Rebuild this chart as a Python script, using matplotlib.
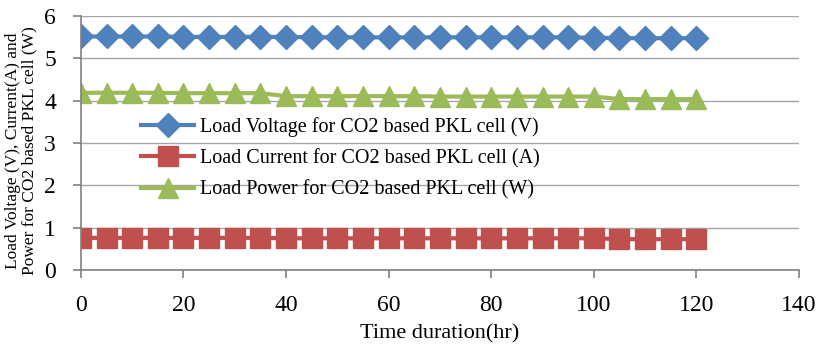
import numpy as np
import matplotlib.pyplot as plt

plt.rcParams['font.family'] = ['Liberation Serif', 'DejaVu Serif']

hours = [0, 5, 10, 15, 20, 25, 30, 35, 40, 45, 50, 55, 60, 65, 70, 75, 80, 85, 90, 95, 100, 105, 110, 115, 120]
voltage = [5.52, 5.52, 5.52, 5.52, 5.51, 5.51, 5.51, 5.51, 5.51, 5.50, 5.50, 5.50, 5.50, 5.50, 5.50, 5.50, 5.50, 5.50, 5.50, 5.50,
           5.49, 5.48, 5.48, 5.48, 5.48]
current = [0.76, 0.76, 0.76, 0.76, 0.76, 0.76, 0.76, 0.76, 0.75, 0.75, 0.75, 0.75, 0.75, 0.75, 0.75, 0.75, 0.75, 0.75, 0.75, 0.75,
           0.75, 0.73, 0.73, 0.73, 0.73]
power = [4.19, 4.19, 4.19, 4.19, 4.18, 4.18, 4.18, 4.18, 4.11, 4.11, 4.11, 4.11, 4.11, 4.11, 4.10, 4.10, 4.10, 4.10, 4.10, 4.10,
         4.10, 4.04, 4.04, 4.04, 4.04]

fig = plt.figure(figsize=(8.17, 3.44), dpi=100)
ax = fig.add_axes([0.099, 0.215, 0.879, 0.738])

ax.plot(hours, voltage, color='#4f81bd', lw=3, marker='D', markersize=12, label='Load Voltage for CO2 based PKL cell (V)')
ax.plot(hours, current, color='#c0504d', lw=3, marker='s', markersize=14, label='Load Current for CO2 based PKL cell (A)')
ax.plot(hours, power, color='#9bbb59', lw=3, marker='^', markersize=14, label='Load Power for CO2 based PKL cell (W)')

ax.set_xlim(0, 140)
ax.set_ylim(0, 6)
ax.set_xticks(np.arange(0, 141, 20))
ax.set_yticks(np.arange(0, 7, 1))
ax.grid(axis='y', color='#a6a6a6', lw=1)
ax.set_axisbelow(True)
for s in ['top', 'right']:
    ax.spines[s].set_visible(False)
for s in ['left', 'bottom']:
    ax.spines[s].set_color('#808080')
    ax.spines[s].set_linewidth(1.2)
ax.tick_params(axis='both', labelsize=17, color='#808080', length=6, width=1.2)
ax.tick_params(axis='x', pad=12)
ax.tick_params(axis='y', pad=12)
ax.set_xlabel('Time duration(hr)', fontsize=16)
ax.xaxis.set_label_coords(0.5, -0.215)
ax.set_ylabel('Load Voltage (V), Current(A) and\nPower for CO2 based PKL cell (W)', fontsize=12.5, linespacing=1.05)
ax.yaxis.set_label_coords(-0.06, 0.47)

ax.legend(loc='upper left', bbox_to_anchor=(0.073, 0.635), frameon=False, fontsize=14.5,
          handlelength=2.6, labelspacing=0.6, handletextpad=0.3, borderaxespad=0)

fig.savefig('out.png', dpi=100)
